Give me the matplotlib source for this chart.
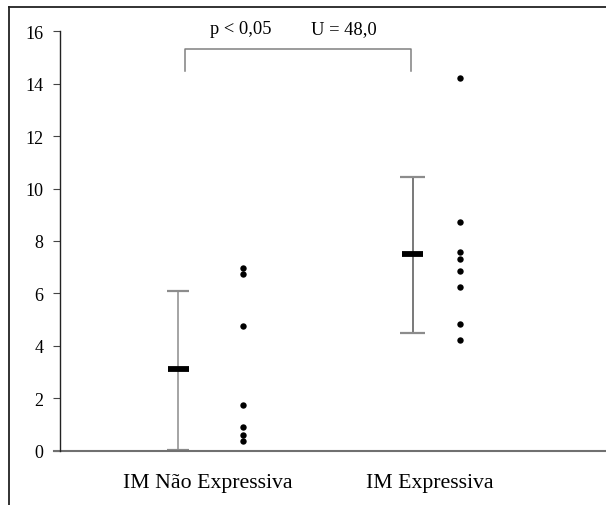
import matplotlib
matplotlib.use("Agg")
import matplotlib.pyplot as plt
from matplotlib.lines import Line2D

plt.rcParams['font.family'] = ['Liberation Serif', 'DejaVu Serif']

# ---- data ----
categories = ["IM Não Expressiva", "IM Expressiva"]
means = [3.13, 7.52]
err_low = [0.04, 4.50]
err_high = [6.08, 10.43]
points_nao = [6.98, 6.76, 4.74, 1.76, 0.90, 0.61, 0.36]
points_exp = [14.22, 8.71, 7.58, 7.33, 6.84, 6.26, 4.82, 4.21]
yticks = [0, 2, 4, 6, 8, 10, 12, 14, 16]
p_text = "p < 0,05"
u_text = "U = 48,0"

# ---- layout ----
W, H = 606, 506
fig = plt.figure(figsize=(W / 100, H / 100), dpi=100)
ax_l, ax_r = 60 / W, 1.0
ax_b, ax_t = (H - 451.7) / H, (H - 32.3) / H
ax = fig.add_axes([ax_l, ax_b, ax_r - ax_l, ax_t - ax_b])

cat_pos = [1, 2]
err_off = [-0.135, -0.077]
pt_off = [0.158, 0.135]
xlim = (0.333, 2.793)
ax.set_xlim(*xlim)
ax.set_ylim(0, 16)

err_colors = ["#8c8c8c", "#555555"]
cap_half = [0.05, 0.056]
for i in range(2):
    xe = cat_pos[i] + err_off[i]
    ax.vlines(xe, err_low[i], err_high[i], color=err_colors[i], lw=1.1, zorder=2)
    for yv in (err_low[i], err_high[i]):
        ax.hlines(yv, xe - cap_half[i], xe + cap_half[i], color="#8c8c8c", lw=1.6, zorder=2)
    ax.hlines(means[i], xe - 0.047, xe + 0.047, color="black", lw=4.2, zorder=3)

for i, pts in enumerate([points_nao, points_exp]):
    ax.plot([cat_pos[i] + pt_off[i]] * len(pts), pts, 'o', color="black",
            markersize=4.6, markeredgewidth=0, zorder=4)

# significance bracket
bx1, bx2 = 0.896, 1.914
by_top, by_bot = 15.34, 14.47
ax.plot([bx1, bx1, bx2, bx2], [by_bot, by_top, by_top, by_bot], color="#808080",
        lw=1.1, clip_on=False, zorder=2)
ax.text(1.149, 16.12, p_text, ha="center", va="center", fontsize=13.3, clip_on=False)
ax.text(1.61, 16.12, u_text, ha="center", va="center", fontsize=13.3, clip_on=False)

# axes styling
for s in ["top", "right", "bottom"]:
    ax.spines[s].set_visible(False)
ax.spines["left"].set_color("#222222")
ax.spines["left"].set_linewidth(1.0)
ax.set_yticks(yticks)
ax.set_yticklabels([str(v) for v in yticks])
ax.tick_params(axis="y", direction="out", length=5, width=0.8, color="#444444",
               labelsize=13, pad=7)
ax.set_xticks([])
# x axis line (extends slightly left of y axis)
ax.add_line(Line2D([-6 / (W * (ax_r - ax_l)), 1.0], [0, 0], transform=ax.transAxes,
                   color="#707070", lw=1.5, clip_on=False))

# category labels
for i, c in enumerate(categories):
    ax.text(cat_pos[i], -1.374, c, ha="center", va="baseline", fontsize=15.7, clip_on=False)

# figure border (top and left)
fig.add_artist(Line2D([9 / W, 9 / W], [0, 1 - 7.5 / H], transform=fig.transFigure,
                      color="#222222", lw=1.3))
fig.add_artist(Line2D([9 / W, 1], [1 - 7.5 / H, 1 - 7.5 / H], transform=fig.transFigure,
                      color="#222222", lw=1.3))

fig.savefig("out.png", dpi=100)
